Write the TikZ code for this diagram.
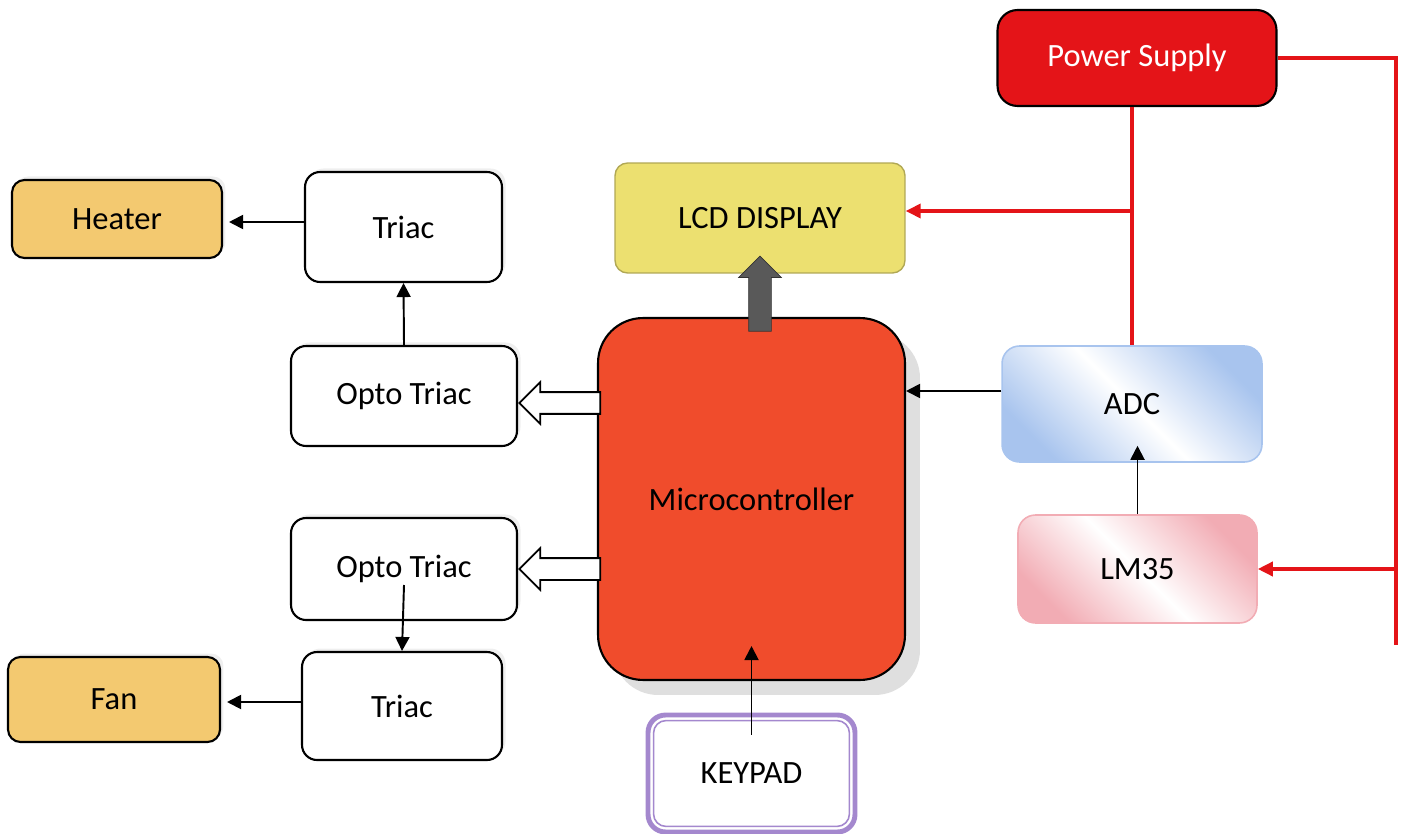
\documentclass[tikz,border=0pt]{standalone}
\usepackage{fontspec}
\setmainfont{Carlito}
\usetikzlibrary{calc,positioning,arrows.meta,shapes.arrows,shadows}
\definecolor{psred}{RGB}{228,20,24}
\definecolor{mcred}{RGB}{240,76,44}
\definecolor{lcdyel}{RGB}{236,224,112}
\definecolor{loadyel}{RGB}{243,201,112}
\definecolor{adcblue}{RGB}{168,196,238}
\definecolor{lmpink}{RGB}{242,172,180}
\definecolor{kppurple}{RGB}{164,136,206}

\begin{document}
\begin{tikzpicture}[
  x=0.02cm, y=-0.02cm,
  font=\fontsize{18.5}{22}\selectfont,
  whitebox/.style={draw, line width=1.2pt, fill=white, rounded corners=0.3cm, inner sep=0pt,
    drop shadow={shadow xshift=2pt, shadow yshift=2pt, fill=black!12}},
  load/.style={whitebox, fill=loadyel, rounded corners=0.25cm},
  arr/.style={-{Triangle[length=0.28cm,width=0.28cm]}, line width=1.1pt},
  redline/.style={draw=psred, line width=2pt},
  redarr/.style={redline, -{Triangle[length=0.3cm,width=0.28cm]}},
  hollow/.style={single arrow, draw, fill=white, line width=1pt, inner sep=0.2cm,
    single arrow head extend=0.2cm, minimum height=1.62cm, shape border rotate=180},
  fatarrow/.style={single arrow, draw=black!80, fill=black!65, inner sep=0.22cm,
    single arrow head extend=0.2cm, minimum height=1.5cm, shape border rotate=90},
  ]
  \useasboundingbox (0,0) rectangle (1412,834);

  % supply and sensing side
  \node[draw, line width=1.2pt, fill=psred, text=white, rounded corners=0.4cm,
    minimum width=5.58cm, minimum height=1.92cm] (ps) at (1137,58) {Power Supply};
  \node[draw=adcblue, line width=0.9pt, rounded corners=0.35cm, shading=axis,
    left color=adcblue, right color=adcblue, middle color=white, shading angle=135,
    minimum width=5.2cm, minimum height=2.32cm] (adc) at (1132,404) {ADC};
  \node[draw=lmpink, line width=0.9pt, rounded corners=0.35cm, shading=axis,
    left color=lmpink, right color=lmpink, middle color=white, shading angle=135,
    minimum width=4.78cm, minimum height=2.16cm] (lm) at (1137.5,569) {LM35};

  % controller, display and keypad
  \node[draw, line width=1.2pt, fill=mcred, rounded corners=0.9cm,
    drop shadow={shadow xshift=0.3cm, shadow yshift=-0.3cm, fill=black!25},
    minimum width=6.14cm, minimum height=7.24cm] (mc) at (751.5,499) {Microcontroller};
  \node[draw=lcdyel!75!black, line width=0.8pt, fill=lcdyel, rounded corners=0.25cm,
    minimum width=5.8cm, minimum height=2.2cm] (lcd) at (760,218) {LCD DISPLAY};
  \node[draw=kppurple, line width=2.8pt, fill=white, rounded corners=0.35cm,
    minimum width=4.14cm, minimum height=2.34cm] (kp) at (751.5,773.5) {KEYPAD};
  \draw[kppurple, line width=0.9pt, rounded corners=0.25cm]
    ([shift={(8,8)}]kp.north west) rectangle ([shift={(-8,-8)}]kp.south east);

  % output stages
  \node[whitebox, minimum width=4.52cm, minimum height=2cm] (op1) at (404,396) {Opto Triac};
  \node[whitebox, minimum width=4.52cm, minimum height=2.04cm] (op2) at (404,569) {Opto Triac};
  \node[whitebox, minimum width=3.94cm, minimum height=2.2cm] (tr1) at (403.5,227) {Triac};
  \node[whitebox, minimum width=4cm, minimum height=2.16cm] (tr2) at (402,706) {Triac};
  \node[load, minimum width=4.2cm, minimum height=1.56cm] (heater) at (117,219) {Heater};
  \node[load, minimum width=4.24cm, minimum height=1.7cm] (fan) at (114,699.5) {Fan};

  % power lines
  \coordinate (rend) at (1396,645);
  \draw[redline] (ps.east) -| (rend);
  \draw[redarr] (rend |- lm.east) -- (lm.east);
  \draw[redline] (ps.south -| adc.north) -- (adc.north);
  \draw[redarr] ([yshift=0.14cm]adc.north |- lcd.east) -- ([yshift=0.14cm]lcd.east);

  % signal lines
  \draw[arr] (lm.north) -- ([yshift=0.34cm]lm.north |- adc.south);
  \draw[arr] ([yshift=0.26cm]adc.west) -- ([yshift=0.26cm]adc.west -| mc.east);
  \draw[arr] ([yshift=-0.44cm]kp.north) -- ([yshift=0.7cm]kp.north |- mc.south);
  \draw[arr] (op1.north) -- (tr1.south);
  \draw[arr] ([yshift=-0.32cm]op2.center) -- (tr2.north);
  \draw[arr, shorten >=0.12cm] ([yshift=0.1cm]tr1.west) -- ([yshift=0.1cm]tr1.west -| heater.east);
  \draw[arr, shorten >=0.12cm] ([yshift=0.08cm]tr2.west) -- ([yshift=0.08cm]tr2.west -| fan.east);

  % bus arrows
  \foreach \o/\dy in {op1/-0.14cm, op2/0cm}
    \node[hollow, anchor=tip] at ([yshift=\dy]\o.east) {};
  \node[fatarrow, anchor=tip] at ([yshift=0.36cm]lcd.south) {};

\end{tikzpicture}
\end{document}
